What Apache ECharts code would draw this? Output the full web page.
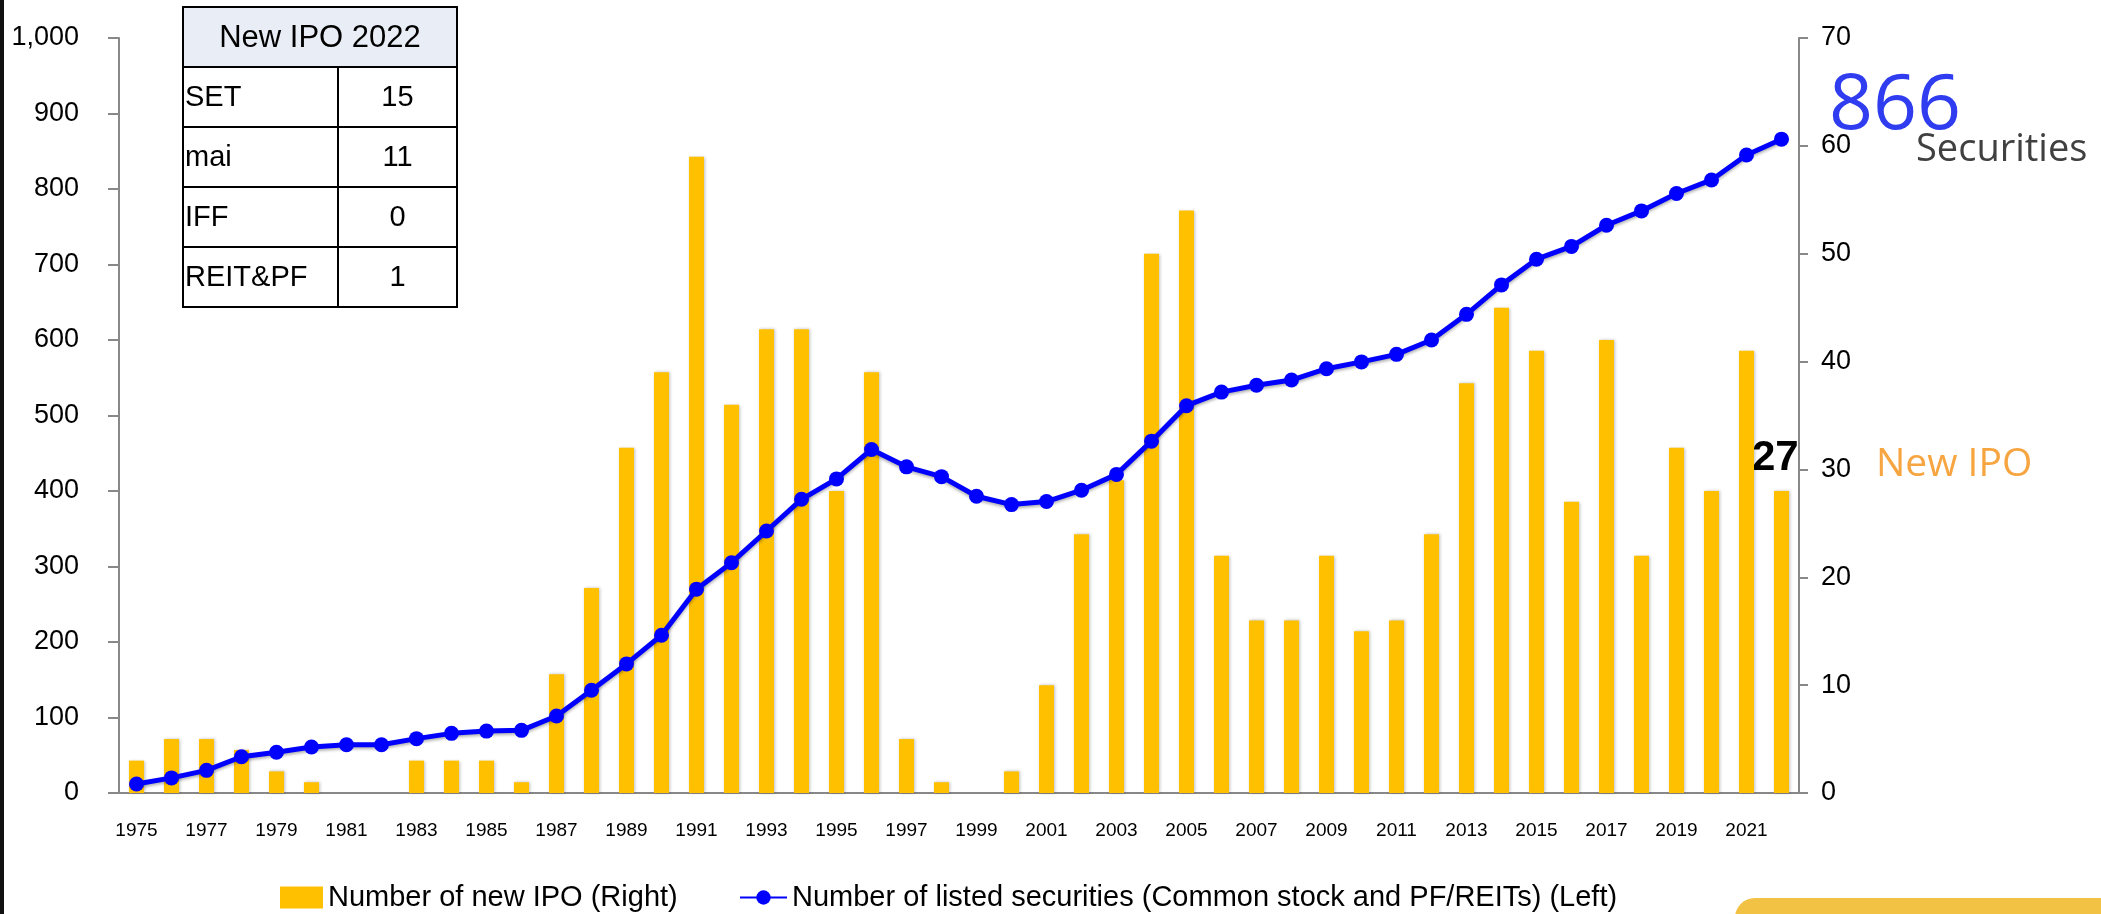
<!DOCTYPE html>
<html>
<head>
<meta charset="utf-8">
<script src="https://cdn.jsdelivr.net/npm/echarts@6/dist/echarts.min.js"></script>
<style>
  html, body { margin: 0; padding: 0; background: #fff; }
  #main { width: 2101px; height: 914px; }
</style>
</head>
<body>
<div id="main"></div>
<script>
// years on x axis
var years = [];
for (var y = 1975; y <= 2022; y++) years.push(String(y));

// number of new IPO (right axis)
var newIpo = [3, 5, 5, 4, 2, 1, 0, 0, 3, 3, 3, 1,
  11, 19, 32, 39, 59, 36, 43, 43, 28, 39, 5, 1, 0, 2,
  10, 24, 29, 50, 54, 22, 16, 16, 22, 15, 16,
  24, 38, 45, 41, 27, 42, 22, 32, 28, 41, 28];

// number of listed securities (left axis)
var listed = [12, 20, 30, 48, 54, 61, 64, 64, 72, 79, 82, 83,
  102, 136, 171, 209, 270, 305, 347, 389, 416, 455, 432, 419, 393, 382,
  386, 401, 422, 466, 513, 531, 540, 547, 562, 571, 581,
  600, 634, 673, 707, 724, 752, 771, 794, 812, 845, 866];

// new IPO 2022 table
var tableTitle = 'New IPO 2022';
var markets = ['SET', 'mai', 'IFF', 'REIT&PF'];
var ipo2022 = [15, 11, 0, 1];

var barName = 'Number of new IPO (Right)';
var lineName = 'Number of listed securities (Common stock and PF/REITs) (Left)';

var arial = 'Liberation Sans, Arial, sans-serif';
var axisGray = '#888888';

// table drawn as graphic elements
var tblX = 183, tblY = 7, tblW = 274, headH = 60, rowH = 60, colX = 338;
var tableEls = [];
tableEls.push({
  type: 'rect', shape: { x: tblX, y: tblY, width: tblW, height: headH },
  style: { fill: '#e9edf6', stroke: '#000', lineWidth: 2 }
});
tableEls.push({
  type: 'text', style: { text: tableTitle, x: tblX + tblW / 2, y: tblY + headH / 2 + 1,
    align: 'center', verticalAlign: 'middle', font: '31px ' + arial, fill: '#000' }
});
markets.forEach(function (m, i) {
  var ry = tblY + headH + i * rowH;
  tableEls.push({
    type: 'rect', shape: { x: tblX, y: ry, width: colX - tblX, height: rowH },
    style: { fill: '#fff', stroke: '#000', lineWidth: 2 }
  });
  tableEls.push({
    type: 'rect', shape: { x: colX, y: ry, width: tblX + tblW - colX, height: rowH },
    style: { fill: '#fff', stroke: '#000', lineWidth: 2 }
  });
  tableEls.push({
    type: 'text', style: { text: m, x: tblX + 2, y: ry + rowH / 2 + 1,
      align: 'left', verticalAlign: 'middle', font: '29px ' + arial, fill: '#000' }
  });
  tableEls.push({
    type: 'text', style: { text: String(ipo2022[i]), x: (colX + tblX + tblW) / 2, y: ry + rowH / 2 + 1,
      align: 'center', verticalAlign: 'middle', font: '29px ' + arial, fill: '#000' }
  });
});

var myChart = echarts.init(document.getElementById('main'));

var option = {
  backgroundColor: '#fff',
  animation: false,
  grid: { left: 119, right: 302, top: 38, bottom: 121 },
  legend: [{
    left: 275, top: 878,
    itemWidth: 43, itemHeight: 22, icon: 'rect',
    textStyle: { fontSize: 29, fontFamily: arial, color: '#000' },
    data: [barName]
  }, {
    left: 734, top: 878,
    itemWidth: 47, itemHeight: 18,
    textStyle: { fontSize: 29, fontFamily: arial, color: '#000' },
    data: [lineName]
  }],
  xAxis: {
    type: 'category',
    data: years,
    axisLine: { lineStyle: { color: axisGray, width: 2 } },
    axisTick: { interval: 0, length: 8, lineStyle: { color: axisGray, width: 2 } },
    axisLabel: { interval: 1, margin: 28, fontSize: 19, fontFamily: arial, color: '#000' }
  },
  yAxis: [{
    type: 'value', min: 0, max: 1000, interval: 100,
    splitLine: { show: false },
    axisLine: { show: true, lineStyle: { color: axisGray, width: 2 } },
    axisTick: { show: true, length: 11, lineStyle: { color: axisGray, width: 2 } },
    axisLabel: {
      margin: 40, fontSize: 27, fontFamily: arial, color: '#000',
      formatter: function (v) { return v.toLocaleString('en-US'); }
    }
  }, {
    type: 'value', min: 0, max: 70, interval: 10,
    splitLine: { show: false },
    axisLine: { show: true, lineStyle: { color: axisGray, width: 2 } },
    axisTick: { show: true, length: 9, lineStyle: { color: axisGray, width: 2 } },
    axisLabel: { margin: 22, fontSize: 27, fontFamily: arial, color: '#000' }
  }],
  series: [{
    name: barName,
    type: 'bar',
    yAxisIndex: 1,
    barWidth: 15,
    itemStyle: { color: '#ffc000', shadowColor: 'rgba(0,0,0,0.25)', shadowBlur: 3, shadowOffsetX: 1 },
    data: newIpo
  }, {
    name: lineName,
    type: 'line',
    yAxisIndex: 0,
    symbol: 'circle',
    symbolSize: 15,
    lineStyle: { color: '#0000ff', width: 5, shadowColor: 'rgba(0,0,0,0.3)', shadowBlur: 3, shadowOffsetY: 2 },
    itemStyle: { color: '#0000ff' },
    data: listed
  }],
  graphic: [
    // dark frame edge on the left
    { type: 'rect', shape: { x: 0, y: 0, width: 4, height: 914 }, style: { fill: '#111' } },
    // yellow tab bottom right
    { type: 'rect', shape: { x: 1735, y: 898, width: 420, height: 40, r: 22 }, style: { fill: '#f2c244' } },
    { type: 'group', children: tableEls },
    { type: 'text', style: { text: '866', x: 1829, y: 69,
      font: '77px Open Sans, sans-serif', fill: '#2f3cf0' } },
    { type: 'text', style: { text: 'Securities', x: 1916, y: 131,
      font: '38px Open Sans, sans-serif', fill: '#404040' } },
    { type: 'text', style: { text: '27', x: 1752, y: 437,
      font: 'bold 42px ' + arial, fill: '#000' } },
    { type: 'text', style: { text: 'New IPO', x: 1876, y: 445,
      font: '39px Open Sans, sans-serif', fill: '#f7a540' } }
  ]
};

myChart.setOption(option);
</script>
</body>
</html>
